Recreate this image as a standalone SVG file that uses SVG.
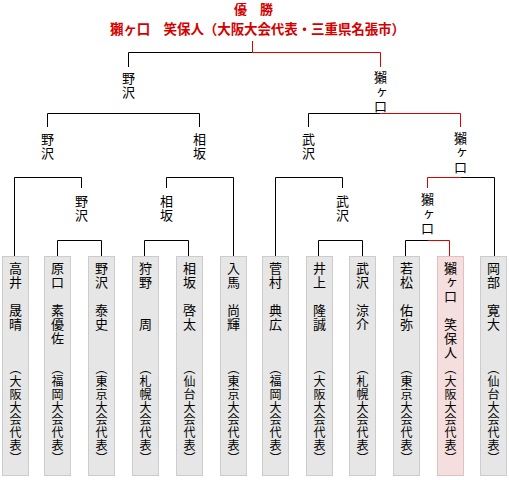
<svg xmlns="http://www.w3.org/2000/svg" width="509" height="480" viewBox="0 0 509 480">
<style>
text{font-family:"Noto Sans CJK JP","Noto Sans CJK SC",sans-serif;fill:#000}
.title{font-weight:bold;fill:#d40000;text-anchor:middle}
.v{writing-mode:vertical-rl;font-size:13px;letter-spacing:1px}
.lbl{writing-mode:vertical-rl;font-size:13px;letter-spacing:1.5px}
.aff{writing-mode:vertical-rl;font-size:12px;letter-spacing:0.86px}
.box rect{fill:#e6e6e6;stroke:#cccccc;stroke-width:1}
.win rect{fill:#f5dede;stroke:#e0c0c0;stroke-width:1}
.k{fill:none;stroke:#000;stroke-width:1}
.r{fill:none;stroke:#e00000;stroke-width:1}
</style>
<g id="title">
<text class="title" x="253.5" y="14" font-size="13">優　勝</text>
<text class="title" x="257.5" y="34" font-size="13.5" textLength="295" lengthAdjust="spacing">獺ヶ口　笑保人（大阪大会代表・三重県名張市）</text>
</g>
<g id="connectors">
<path class="k" d="M128.5 67V52.5H252.5"/>
<path class="r" d="M252.5 41V52.5H380.5V67"/>
<path class="k" d="M47.5 127V113.5H199.5V127"/>
<path class="k" d="M308.5 127V113.5H380.5"/>
<path class="r" d="M380.5 113.5H460.5V127"/>
<path class="k" d="M14.5 256V177.5H81.5V188"/>
<path class="k" d="M166.5 188V177.5H233.5V256"/>
<path class="k" d="M275.5 256V177.5H342.5V188"/>
<path class="r" d="M427.5 188V177.5H461"/>
<path class="k" d="M461 177.5H494.5V256"/>
<path class="k" d="M57.5 256V240.5H101.5V256"/>
<path class="k" d="M144.5 256V240.5H188.5V256"/>
<path class="k" d="M318.5 256V240.5H362.5V256"/>
<path class="k" d="M405.5 256V240.5H428"/>
<path class="r" d="M428 240.5H449.5V256"/>
</g>
<g id="r1-noz"><text class="lbl" x="128.5" y="71.5">野沢</text></g>
<g id="r1-ose"><text class="lbl" x="380.5" y="71">獺ヶ口</text></g>
<g id="r2-noz"><text class="lbl" x="47.5" y="132.5">野沢</text></g>
<g id="r2-ais"><text class="lbl" x="199.5" y="132.5">相坂</text></g>
<g id="r2-tak"><text class="lbl" x="308.5" y="132.5">武沢</text></g>
<g id="r2-ose"><text class="lbl" x="460.5" y="131.5">獺ヶ口</text></g>
<g id="r3-noz"><text class="lbl" x="81.5" y="194.5">野沢</text></g>
<g id="r3-ais"><text class="lbl" x="166.5" y="194.5">相坂</text></g>
<g id="r3-tak"><text class="lbl" x="342.5" y="194.5">武沢</text></g>
<g id="r3-ose"><text class="lbl" x="427.5" y="193">獺ヶ口</text></g>
<g id="p1" class="box"><rect x="2.5" y="256.5" width="26" height="219"/><text class="v" x="15.5" y="261.5">高井　晟晴</text><text class="aff" x="15.5" y="362.4">（大阪大会代表）</text></g>
<g id="p2" class="box"><rect x="44.5" y="256.5" width="26" height="219"/><text class="v" x="57.5" y="261.5">原口　素優佐</text><text class="aff" x="57.5" y="362.4">（福岡大会代表）</text></g>
<g id="p3" class="box"><rect x="88.5" y="256.5" width="26" height="219"/><text class="v" x="101.5" y="261.5">野沢　泰史</text><text class="aff" x="101.5" y="362.4">（東京大会代表）</text></g>
<g id="p4" class="box"><rect x="132.5" y="256.5" width="26" height="219"/><text class="v" x="145.5" y="261.5">狩野　　周</text><text class="aff" x="145.5" y="362.4">（札幌大会代表）</text></g>
<g id="p5" class="box"><rect x="176.5" y="256.5" width="26" height="219"/><text class="v" x="189.5" y="261.5">相坂　啓太</text><text class="aff" x="189.5" y="362.4">（仙台大会代表）</text></g>
<g id="p6" class="box"><rect x="220.5" y="256.5" width="26" height="219"/><text class="v" x="233.5" y="261.5">入馬　尚輝</text><text class="aff" x="233.5" y="362.4">（東京大会代表）</text></g>
<g id="p7" class="box"><rect x="262.5" y="256.5" width="26" height="219"/><text class="v" x="275.5" y="261.5">菅村　典広</text><text class="aff" x="275.5" y="362.4">（福岡大会代表）</text></g>
<g id="p8" class="box"><rect x="306.5" y="256.5" width="26" height="219"/><text class="v" x="319.5" y="261.5">井上　隆誠</text><text class="aff" x="319.5" y="362.4">（大阪大会代表）</text></g>
<g id="p9" class="box"><rect x="349.5" y="256.5" width="26" height="219"/><text class="v" x="362.5" y="261.5">武沢　涼介</text><text class="aff" x="362.5" y="362.4">（札幌大会代表）</text></g>
<g id="p10" class="box"><rect x="393.5" y="256.5" width="26" height="219"/><text class="v" x="406.5" y="261.5">若松　佑弥</text><text class="aff" x="406.5" y="362.4">（東京大会代表）</text></g>
<g id="p11" class="win"><rect x="437.5" y="256.5" width="26" height="219"/><text class="v" x="450.5" y="261.5">獺ヶ口　笑保人</text><text class="aff" x="450.5" y="362.4">（大阪大会代表）</text></g>
<g id="p12" class="box"><rect x="480.5" y="256.5" width="26" height="219"/><text class="v" x="493.5" y="261.5">岡部　寛大</text><text class="aff" x="493.5" y="362.4">（仙台大会代表）</text></g>
</svg>
